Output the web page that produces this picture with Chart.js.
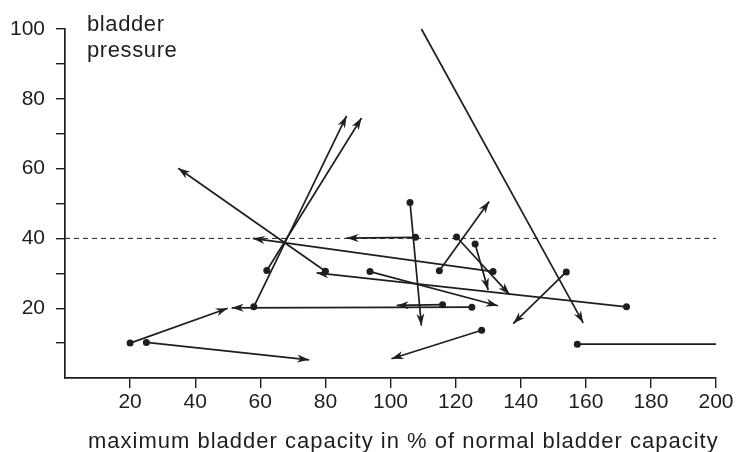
<!DOCTYPE html>
<html>
<head>
<meta charset="utf-8">
<script src="https://cdn.jsdelivr.net/npm/chart.js@4.4.1/dist/chart.umd.min.js"></script>
<style>
  html, body { margin: 0; padding: 0; background: #ffffff; }
  #wrap { width: 738px; height: 452px; }
</style>
</head>
<body>
<div id="wrap"><canvas id="c" width="738" height="452"></canvas></div>
<script>
// ---- data ----
// each change: start (x,y) -> end (x,y); x = % of normal capacity, y = pressure
const startX = [20, 25, 125, 58, 62, 80, 131.5, 172.5, 106, 107.7, 116, 115, 120.3, 126, 93.7, 154, 109.5, 157.4, 128];
const startY = [10, 10.2, 20.3, 20.4, 30.8, 30.6, 30.5, 20.4, 50.3, 40.3, 21, 30.7, 40.4, 38.4, 30.5, 30.4, 100, 9.7, 13.7];
const endX   = [50, 75, 51.2, 86.5, 91.1, 34.8, 57.7, 77.3, 109.5, 86.5, 101.9, 130.3, 136.6, 130, 133, 137.7, 159.2, 200, 100.3];
const endY   = [20, 5.2, 20.1, 75.1, 74.5, 60.1, 40, 30.1, 15, 40.1, 20.8, 50.6, 23.9, 25.2, 20.7, 15.6, 15.8, 9.7, 5.5];
const hasDot  = [1, 1, 1, 1, 1, 1, 1, 1, 1, 1, 1, 1, 1, 1, 1, 1, 0, 1, 1];
const hasHead = [1, 1, 1, 1, 1, 1, 1, 1, 1, 1, 1, 1, 1, 1, 1, 1, 1, 0, 1];
const xTickValues = [20, 40, 60, 80, 100, 120, 140, 160, 180, 200];
const yTickValues = [10, 20, 30, 40, 50, 60, 70, 80, 90, 100];
const yLabelValues = [20, 40, 60, 80, 100];
const thresholdPressure = 40;
const yTitleLines = ['bladder', 'pressure'];
const xTitle = 'maximum bladder capacity in % of normal bladder capacity';

const INK = '#1e1e1e';
const FONT = '"Liberation Sans", Arial, Helvetica, sans-serif';

const datasets = [];
datasets.push({
  label: 'threshold',
  data: [{x: 0, y: thresholdPressure}, {x: 200, y: thresholdPressure}],
  showLine: true, borderColor: INK, borderWidth: 1, borderDash: [5, 4],
  pointRadius: 0, fill: false, clip: false
});
for (let i = 0; i < startX.length; i++) {
  datasets.push({
    label: 'change ' + (i + 1),
    data: [{x: startX[i], y: startY[i]}, {x: endX[i], y: endY[i]}],
    showLine: true, borderColor: INK, borderWidth: 1.7,
    pointRadius: [hasDot[i] ? 3.5 : 0, 0],
    pointBackgroundColor: INK, pointBorderColor: INK, pointBorderWidth: 0,
    fill: false, clip: false
  });
}

const arrowPlugin = {
  id: 'arrowheads',
  afterDatasetsDraw(chart) {
    const ctx = chart.ctx, xs = chart.scales.x, ys = chart.scales.y;
    ctx.save();
    ctx.fillStyle = INK;
    for (let i = 0; i < startX.length; i++) {
      if (!hasHead[i]) continue;
      const x0 = xs.getPixelForValue(startX[i]), y0 = ys.getPixelForValue(startY[i]);
      const x1 = xs.getPixelForValue(endX[i]), y1 = ys.getPixelForValue(endY[i]);
      const a = Math.atan2(y1 - y0, x1 - x0);
      const L = 12, W = 4, N = 8.5;
      ctx.save();
      ctx.translate(x1, y1);
      ctx.rotate(a);
      ctx.beginPath();
      ctx.moveTo(0, 0);
      ctx.lineTo(-L, -W);
      ctx.lineTo(-N, 0);
      ctx.lineTo(-L, W);
      ctx.closePath();
      ctx.fill();
      ctx.restore();
    }
    ctx.restore();
  }
};

const textPlugin = {
  id: 'axisTexts',
  afterDraw(chart) {
    const ctx = chart.ctx;
    ctx.save();
    ctx.fillStyle = INK;
    ctx.textAlign = 'left';
    ctx.textBaseline = 'alphabetic';
    ctx.font = '22px ' + FONT;
    try { ctx.letterSpacing = '0.6px'; } catch (e) {}
    ctx.fillText(yTitleLines[0], 87, 31);
    ctx.fillText(yTitleLines[1], 87, 57);
    ctx.font = '22px ' + FONT;
    try { ctx.letterSpacing = '1px'; } catch (e) {}
    ctx.fillText(xTitle, 88, 448);
    ctx.restore();
  }
};

new Chart(document.getElementById('c'), {
  type: 'scatter',
  data: { datasets },
  options: {
    responsive: false,
    animation: false,
    devicePixelRatio: 1,
    layout: { padding: { left: 0, right: 22, top: 29, bottom: 0 } },
    plugins: { legend: { display: false }, tooltip: { enabled: false }, title: { display: false } },
    scales: {
      x: {
        type: 'linear', min: 0, max: 200,
        afterBuildTicks(scale) { scale.ticks = xTickValues.map(v => ({ value: v })); },
        afterFit(scale) { scale.height = 74; },
        grid: { drawOnChartArea: false, drawTicks: true, tickLength: 10, color: INK, lineWidth: 1.4 },
        border: { display: true, color: INK, width: 1.7 },
        ticks: { color: INK, font: { family: FONT, size: 21 }, padding: 2, maxRotation: 0, autoSkip: false }
      },
      y: {
        type: 'linear', min: 0, max: 100,
        afterBuildTicks(scale) { scale.ticks = yTickValues.map(v => ({ value: v })); },
        afterFit(scale) { scale.width = 65; },
        grid: { drawOnChartArea: false, drawTicks: true, tickLength: 9, color: INK, lineWidth: 1.4 },
        border: { display: true, color: INK, width: 1.7 },
        ticks: {
          color: INK, font: { family: FONT, size: 21 }, padding: 11, autoSkip: false,
          callback: (v) => (yLabelValues.includes(v) ? String(v) : '')
        }
      }
    }
  },
  plugins: [arrowPlugin, textPlugin]
});
</script>
</body>
</html>
